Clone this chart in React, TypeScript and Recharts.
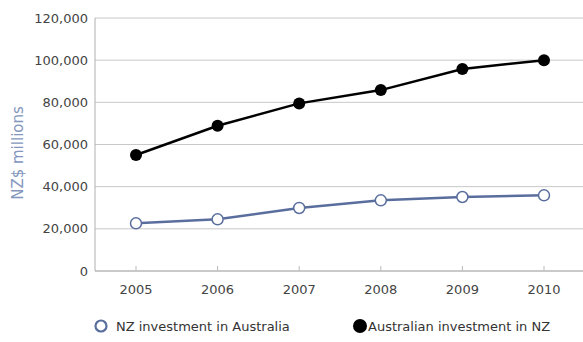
import React from "react";
import { LineChart, Line, XAxis, YAxis, CartesianGrid, Legend } from "recharts";

const years = ["2005", "2006", "2007", "2008", "2009", "2010"];
const nzInAustralia = [22600, 24500, 29900, 33500, 35100, 35900];
const australianInNz = [55000, 68900, 79500, 85800, 95800, 100000];
const yTicks = [0, 20000, 40000, 60000, 80000, 100000, 120000];

const data = years.map((year, i) => ({
  year,
  nz: nzInAustralia[i],
  aus: australianInNz[i],
}));

const FONT = "'DejaVu Sans', sans-serif";
const BLUE = "#5a6e9e";

const XTick = (props: any) => {
  const { x, y, payload } = props;
  return (
    <g>
      <line x1={x} x2={x} y1={y - 5} y2={y} stroke="#bbb" />
      <text x={x} y={y + 23} textAnchor="middle" fontSize={13} fill="#444" fontFamily={FONT}>
        {payload.value}
      </text>
    </g>
  );
};

const LegendContent = () => (
  <div style={{ position: "relative", height: 20, fontFamily: FONT, fontSize: 13, color: "#333" }}>
    <svg width={583} height={20} style={{ position: "absolute", left: 0, top: 0 }}>
      <circle cx={101} cy={10} r={5.5} fill="#fff" stroke={BLUE} strokeWidth={2.2} />
      <text x={116} y={15} fontSize={13} fill="#333" fontFamily={FONT}>
        NZ investment in Australia
      </text>
      <circle cx={360} cy={10} r={7} fill="#000" />
      <text x={368} y={15} fontSize={13} fill="#333" fontFamily={FONT}>
        Australian investment in NZ
      </text>
    </svg>
  </div>
);

export default function App() {
  return (
    <div style={{ position: "absolute", left: 0, top: 0, background: "#fff" }}>
      <LineChart width={583} height={342} data={data} margin={{ top: 18, right: 0, left: 0, bottom: 0 }}>
        <CartesianGrid vertical={false} stroke="#c8c8c8" strokeWidth={1} />
        <XAxis
          dataKey="year"
          height={71}
          padding={{ left: 41, right: 39 }}
          axisLine={{ stroke: "#b0b0b0" }}
          tickLine={false}
          tickSize={0}
          tickMargin={0}
          tick={<XTick />}
          interval={0}
        />
        <YAxis
          width={95}
          domain={[0, 120000]}
          ticks={yTicks}
          interval={0}
          axisLine={{ stroke: "#b0b0b0" }}
          tickLine={false}
          tickSize={0}
          tickMargin={7}
          tick={{ fontSize: 13, fill: "#444", fontFamily: FONT }}
          tickFormatter={(v: number) => v.toLocaleString("en-US")}
          label={{
            content: () => (
              <text
                transform="translate(23,153) rotate(-90)"
                textAnchor="middle"
                fontSize={15}
                fill="#8496bd"
                fontFamily={FONT}
              >
                NZ$ millions
              </text>
            ),
          }}
        />
        <Legend
          layout="horizontal"
          verticalAlign="middle"
          content={<LegendContent />}
          wrapperStyle={{ position: "absolute", left: 0, top: 316, width: 583 }}
        />
        <Line
          dataKey="nz"
          stroke={BLUE}
          strokeWidth={2.5}
          dot={{ r: 5.5, fill: "#fff", stroke: BLUE, strokeWidth: 1.5 }}
          isAnimationActive={false}
        />
        <Line
          dataKey="aus"
          stroke="#000"
          strokeWidth={2.5}
          dot={{ r: 6, fill: "#000", stroke: "#000", strokeWidth: 0 }}
          isAnimationActive={false}
        />
      </LineChart>
    </div>
  );
}
